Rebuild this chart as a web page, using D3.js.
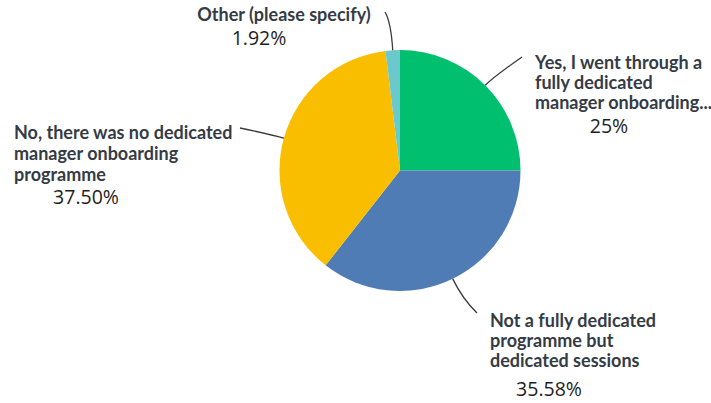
<!DOCTYPE html>
<html>
<head>
<meta charset="utf-8">
<script src="https://cdn.jsdelivr.net/npm/d3@7"></script>
<style>
  html, body { margin: 0; padding: 0; background: #fff; }
  svg { display: block; }
  .lbl { font-family: "Lato", "Open Sans", sans-serif; font-weight: 700; font-size: 18px; fill: #353b45; }
  .pct { font-family: "Open Sans", "Noto Sans", sans-serif; font-weight: 400; font-size: 19.5px; fill: #1e1e1e; }
</style>
</head>
<body>
<svg id="chart" width="711" height="403"></svg>
<script>
// Survey answers, in clockwise order starting at 12 o'clock
const categories = [
  "Yes, I went through a fully dedicated manager onboarding...",
  "Not a fully dedicated programme but dedicated sessions",
  "No, there was no dedicated manager onboarding programme",
  "Other (please specify)"
];
const values = [25, 35.58, 37.50, 1.92];
const percentLabels = ["25%", "35.58%", "37.50%", "1.92%"];
const labelLines = [
  ["Yes, I went through a", "fully dedicated", "manager onboarding..."],
  ["Not a fully dedicated", "programme but", "dedicated sessions"],
  ["No, there was no dedicated", "manager onboarding", "programme"],
  ["Other (please specify)"]
];
const colors = ["#00bf6f", "#507cb6", "#f9be00", "#6bc8cd"];

// Label placement: text block origin, line height, percent position, leader end + bend
const layout = [
  { x: 535, y: 69, anchor: "start", lh: 20, px: 609, py: 133, end: [522, 57], bend: 12 },
  { x: 490, y: 327, anchor: "start", lh: 20, px: 549, py: 396, end: [477, 313], bend: 22 },
  { x: 14, y: 139, anchor: "start", lh: 21, px: 86, py: 204, end: [240, 128], bend: 14 },
  { x: 284, y: 21, anchor: "middle", lh: 20, px: 259, py: 45, end: [385, 12], bend: 28 }
];

const svg = d3.select("#chart");
const cx = 400, cy = 170.5, r = 120.5;
const g = svg.append("g").attr("transform", `translate(${cx},${cy})`);

const pie = d3.pie().sort(null).value(d => d);
const arcs = pie(values);
const arc = d3.arc().innerRadius(0).outerRadius(r);

g.selectAll("path.slice")
  .data(arcs)
  .join("path")
  .attr("class", "slice")
  .attr("d", arc)
  .attr("fill", (d, i) => colors[i])
  .attr("stroke", "none");

// Leader lines from the middle of each slice's outer edge
arcs.forEach((d, i) => {
  const a = (d.startAngle + d.endAngle) / 2;
  const sx = cx + Math.sin(a) * r, sy = cy - Math.cos(a) * r;
  const L = layout[i];
  const qx = cx + Math.sin(a) * (r + L.bend), qy = cy - Math.cos(a) * (r + L.bend);
  const p = d3.path();
  p.moveTo(sx, sy);
  p.quadraticCurveTo(qx, qy, L.end[0], L.end[1]);
  svg.append("path")
    .attr("d", p.toString())
    .attr("fill", "none")
    .attr("stroke", "#3a3a3a")
    .attr("stroke-width", 1.3);
});

// Category labels and percentages
layout.forEach((L, i) => {
  const t = svg.append("text")
    .attr("class", "lbl")
    .attr("text-anchor", L.anchor);
  labelLines[i].forEach((line, k) => {
    t.append("tspan").attr("x", L.x).attr("y", L.y + k * L.lh).text(line);
  });
  svg.append("text")
    .attr("class", "pct")
    .attr("x", L.px).attr("y", L.py)
    .attr("text-anchor", "middle")
    .text(percentLabels[i]);
});
</script>
</body>
</html>
